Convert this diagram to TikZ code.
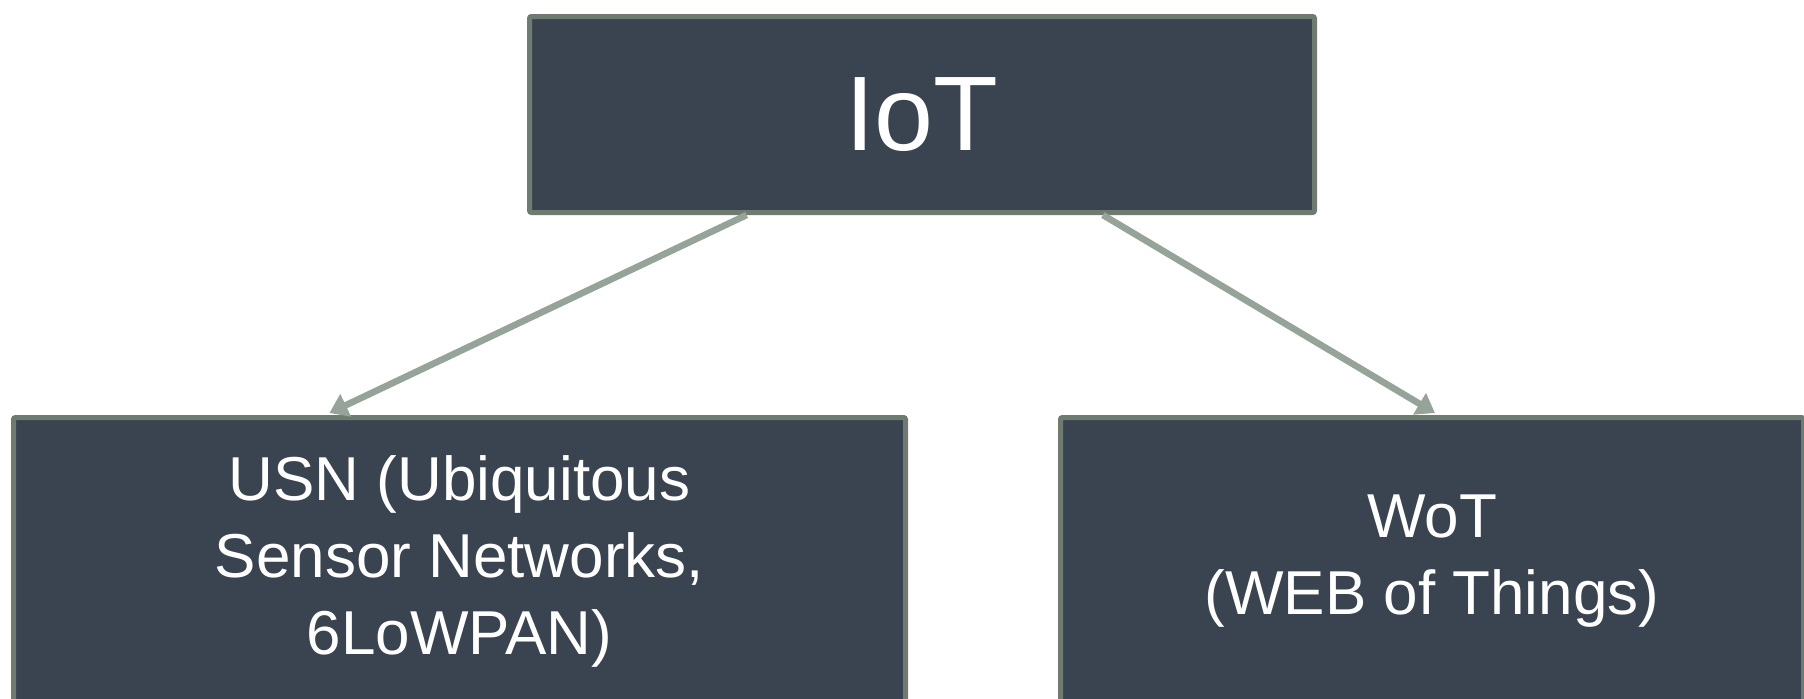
\documentclass[tikz,border=0pt]{standalone}
\usepackage{fontspec}
\setmainfont{Liberation Sans}
\usetikzlibrary{arrows.meta,calc}
\definecolor{boxfill}{HTML}{3A4450}
\definecolor{boxline}{HTML}{6F7B71}
\definecolor{arrowc}{HTML}{95A398}
\tikzset{
  box/.style={draw=boxline, line width=2.5pt, fill=boxfill, text=white, align=center, inner sep=0pt, rounded corners=1pt},
  conn/.style={draw=arrowc, line width=3.3pt, -{Triangle[length=9pt,width=12pt]}}
}
\begin{document}
\begin{tikzpicture}[x=0.5pt,y=-0.5pt]
\useasboundingbox (0,0) rectangle (1804,698);
\clip (0,0) rectangle (1804,698);
\node[box, minimum width=392.5pt, minimum height=98pt, font=\fontsize{53}{60}\selectfont] (iot) at (922,114.5) {IoT};
\node[box, minimum width=446pt, minimum height=143.5pt, font=\fontsize{31}{38.5}\selectfont] (usn) at (459.5,561) {USN (Ubiquitous\\Sensor Networks,\\6LoWPAN)};
\node[box, minimum width=371.5pt, minimum height=143.5pt, font=\fontsize{31}{38.5}\selectfont] (wot) at (1432,561) {WoT\\(WEB of Things)};
\draw[conn] ($(iot.south west)!0.278!(iot.south east)$) -- ($(usn.north west)!0.355!(usn.north east)+(0,-2)$);
\draw[conn] ($(iot.south west)!0.729!(iot.south east)$) -- ($(wot.north west)!0.504!(wot.north east)+(0,-2)$);
\end{tikzpicture}
\end{document}
